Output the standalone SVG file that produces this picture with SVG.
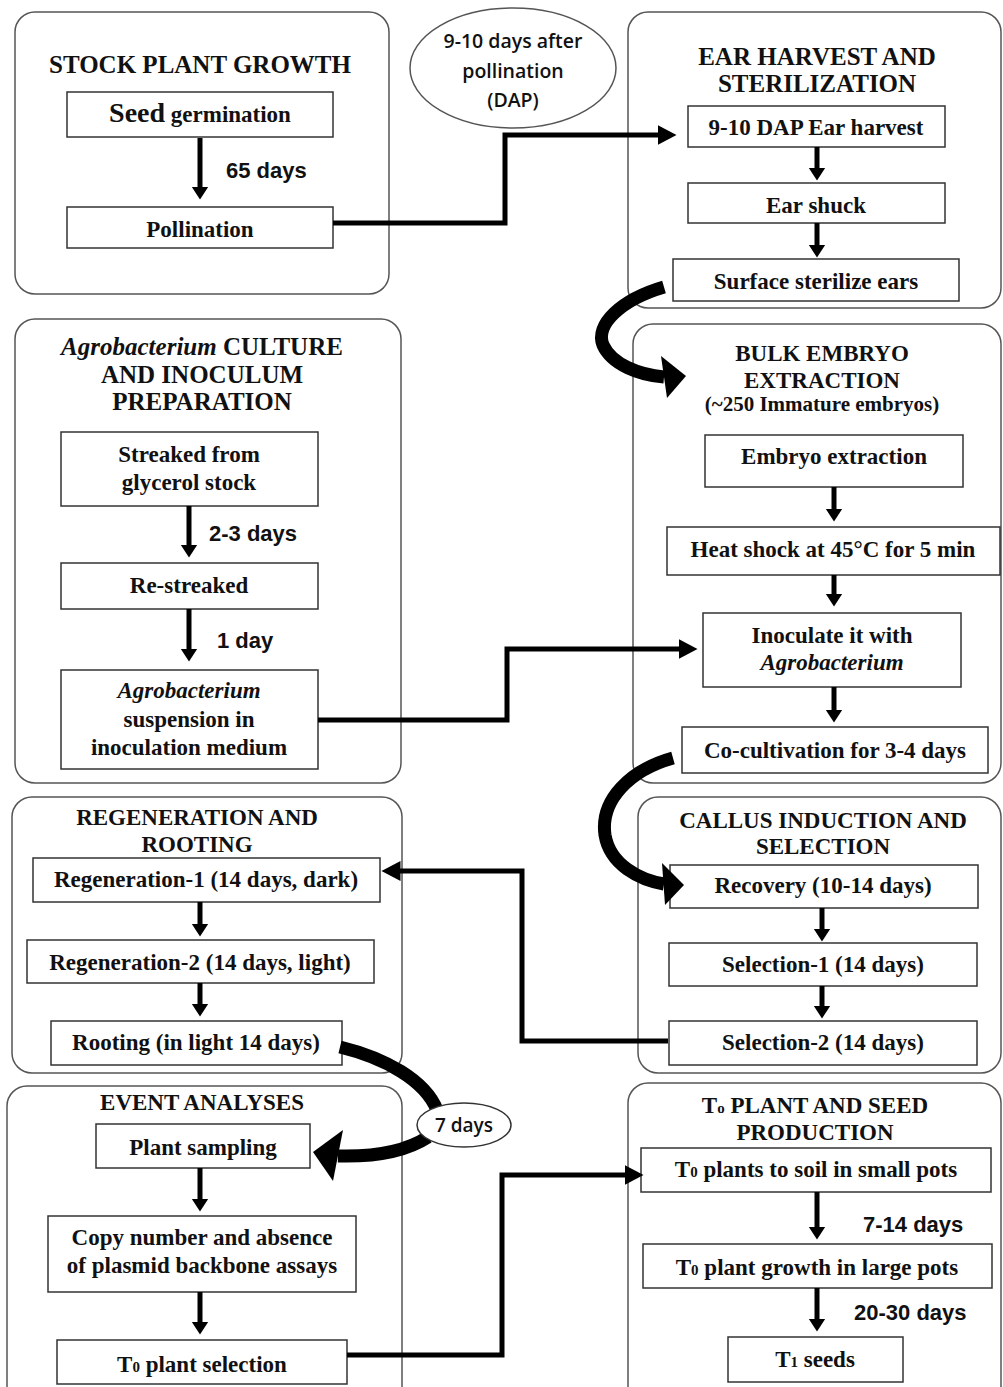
<svg xmlns="http://www.w3.org/2000/svg" width="1003" height="1387" viewBox="0 0 1003 1387">
<style>
.panel{fill:#fff;stroke:#555;stroke-width:1.5}
.box{fill:#fff;stroke:#333;stroke-width:1.5}
.t{font-family:"Liberation Serif","Times New Roman",serif;font-weight:bold;fill:#111;text-anchor:middle}
.ttl{font-size:25px}
.tt2{font-size:23px}
.bx{font-size:23px}
.it{font-style:italic}
.d{font-family:"Liberation Sans",Arial,sans-serif;font-weight:bold;font-size:22px;fill:#111}
.e{font-family:"Open Sans","Liberation Sans",sans-serif;font-weight:600;fill:#111;text-anchor:middle}
.ar{stroke:#000;stroke-width:5;fill:none}
.el{stroke:#000;stroke-width:5;fill:none;stroke-linejoin:miter}
.cv{stroke:#000;stroke-width:13;fill:none}
.sub{font-size:15px}
</style>
<defs>
<marker id="a" markerUnits="userSpaceOnUse" markerWidth="18" markerHeight="18" refX="0.5" refY="8.5" orient="auto"><path d="M0,0 L13,8.5 L0,17 z" fill="#000"/></marker>
<marker id="b" markerUnits="userSpaceOnUse" markerWidth="22" markerHeight="22" refX="0.5" refY="10" orient="auto"><path d="M0,0 L19,10 L0,20 z" fill="#000"/></marker>
</defs>

<g id="stock-plant-growth">
<rect class="panel" x="15" y="12" width="374" height="282" rx="20"/>
<text class="t ttl" x="200" y="73">STOCK PLANT GROWTH</text>
<g id="seed-germination"><rect class="box" x="67" y="92" width="266" height="45"/><text class="t bx" x="200" y="122"><tspan font-size="28">Seed</tspan> germination</text></g>
<g id="pollination"><rect class="box" x="67" y="207" width="266" height="41"/><text class="t bx" x="200" y="237">Pollination</text></g>
<text class="d" x="226" y="178">65 days</text>
</g>

<g id="dap-note">
<ellipse cx="513" cy="68" rx="103" ry="60" fill="#fff" stroke="#555" stroke-width="1.5"/>
<text class="e" x="513" y="48" font-size="19.5">9-10 days after</text>
<text class="e" x="513" y="78" font-size="19.5">pollination</text>
<text class="e" x="513" y="107" font-size="19.5">(DAP)</text>
</g>

<g id="ear-harvest">
<rect class="panel" x="628" y="12" width="373" height="296" rx="20"/>
<text class="t ttl" x="817" y="65">EAR HARVEST AND</text>
<text class="t ttl" x="817" y="92">STERILIZATION</text>
<g id="ear-harvest-box"><rect class="box" x="688" y="106" width="257" height="41"/><text class="t bx" x="816" y="135">9-10 DAP Ear harvest</text></g>
<g id="ear-shuck"><rect class="box" x="688" y="183" width="257" height="40"/><text class="t bx" x="816" y="213">Ear shuck</text></g>
<g id="surface-sterilize"><rect class="box" x="673" y="259" width="286" height="42"/><text class="t bx" x="816" y="289">Surface sterilize ears</text></g>
</g>

<g id="agro-culture">
<rect class="panel" x="15" y="319" width="386" height="464" rx="20"/>
<text class="t ttl" x="202" y="355"><tspan class="it">Agrobacterium</tspan> CULTURE</text>
<text class="t ttl" x="202" y="383">AND INOCULUM</text>
<text class="t ttl" x="202" y="410">PREPARATION</text>
<g id="streaked"><rect class="box" x="61" y="432" width="257" height="74"/><text class="t bx" x="189" y="462">Streaked from</text><text class="t bx" x="189" y="490">glycerol stock</text></g>
<g id="re-streaked"><rect class="box" x="61" y="563" width="257" height="46"/><text class="t bx" x="189" y="593">Re-streaked</text></g>
<g id="suspension"><rect class="box" x="61" y="670" width="257" height="99"/><text class="t bx it" x="189" y="698">Agrobacterium</text><text class="t bx" x="189" y="727">suspension in</text><text class="t bx" x="189" y="755">inoculation medium</text></g>
<text class="d" x="209" y="541">2-3 days</text>
<text class="d" x="217" y="648">1 day</text>
</g>

<g id="bulk-embryo">
<rect class="panel" x="633" y="324" width="368" height="459" rx="20"/>
<text class="t tt2" x="822" y="361">BULK EMBRYO</text>
<text class="t tt2" x="822" y="388">EXTRACTION</text>
<text class="t" x="822" y="411" font-size="21">(~250 Immature embryos)</text>
<g id="embryo-extraction"><rect class="box" x="705" y="435" width="258" height="52"/><text class="t bx" x="834" y="464">Embryo extraction</text></g>
<g id="heat-shock"><rect class="box" x="667" y="527" width="333" height="48"/><text class="t bx" x="833" y="557">Heat shock at 45°C for 5 min</text></g>
<g id="inoculate"><rect class="box" x="703" y="613" width="258" height="74"/><text class="t bx" x="832" y="643">Inoculate it with</text><text class="t bx it" x="832" y="670">Agrobacterium</text></g>
<g id="co-cultivation"><rect class="box" x="682" y="727" width="306" height="46"/><text class="t bx" x="835" y="758">Co-cultivation for 3-4 days</text></g>
</g>

<g id="regeneration">
<rect class="panel" x="12" y="797" width="390" height="276" rx="20"/>
<text class="t tt2" x="197" y="825">REGENERATION AND</text>
<text class="t tt2" x="197" y="852">ROOTING</text>
<g id="regen-1"><rect class="box" x="33" y="858" width="347" height="44"/><text class="t bx" x="206" y="887">Regeneration-1 (14 days, dark)</text></g>
<g id="regen-2"><rect class="box" x="27" y="940" width="347" height="43"/><text class="t bx" x="200" y="970">Regeneration-2 (14 days, light)</text></g>
<g id="rooting"><rect class="box" x="51" y="1021" width="291" height="44"/><text class="t bx" x="196" y="1050">Rooting (in light 14 days)</text></g>
</g>

<g id="callus">
<rect class="panel" x="638" y="797" width="363" height="276" rx="20"/>
<text class="t tt2" x="823" y="828">CALLUS INDUCTION AND</text>
<text class="t tt2" x="823" y="854">SELECTION</text>
<g id="recovery"><rect class="box" x="670" y="865" width="308" height="43"/><text class="t bx" x="823" y="893">Recovery (10-14 days)</text></g>
<g id="selection-1"><rect class="box" x="669" y="943" width="308" height="43"/><text class="t bx" x="823" y="972">Selection-1 (14 days)</text></g>
<g id="selection-2"><rect class="box" x="669" y="1021" width="308" height="44"/><text class="t bx" x="823" y="1050">Selection-2 (14 days)</text></g>
</g>

<g id="event-analyses">
<rect class="panel" x="7" y="1086" width="395" height="330" rx="20"/>
<text class="t tt2" x="202" y="1110">EVENT ANALYSES</text>
<g id="plant-sampling"><rect class="box" x="96" y="1124" width="214" height="44"/><text class="t bx" x="203" y="1155">Plant sampling</text></g>
<g id="copy-number"><rect class="box" x="48" y="1216" width="308" height="76"/><text class="t bx" x="202" y="1245">Copy number and absence</text><text class="t bx" x="202" y="1273">of plasmid backbone assays</text></g>
<g id="t0-selection"><rect class="box" x="57" y="1340" width="290" height="44"/><text class="t bx" x="202" y="1372">T<tspan class="sub">0</tspan> plant selection</text></g>
</g>

<g id="t0-production">
<rect class="panel" x="628" y="1083" width="373" height="330" rx="20"/>
<text class="t tt2" x="815" y="1113">T<tspan class="sub">o</tspan> PLANT AND SEED</text>
<text class="t tt2" x="815" y="1140">PRODUCTION</text>
<g id="t0-small-pots"><rect class="box" x="641" y="1148" width="350" height="44"/><text class="t bx" x="816" y="1177">T<tspan class="sub">0</tspan> plants to soil in small pots</text></g>
<g id="t0-large-pots"><rect class="box" x="643" y="1244" width="349" height="44"/><text class="t bx" x="817" y="1275">T<tspan class="sub">0</tspan> plant growth in large pots</text></g>
<g id="t1-seeds"><rect class="box" x="728" y="1337" width="175" height="45"/><text class="t bx" x="815" y="1367">T<tspan class="sub">1</tspan> seeds</text></g>
<text class="d" x="863" y="1232">7-14 days</text>
<text class="d" x="854" y="1320">20-30 days</text>
</g>

<g id="connectors">
<line class="ar" x1="200" y1="138" x2="200" y2="187" marker-end="url(#a)"/>
<line class="ar" x1="817" y1="147" x2="817" y2="168" marker-end="url(#a)"/>
<line class="ar" x1="817" y1="223" x2="817" y2="245" marker-end="url(#a)"/>
<line class="ar" x1="189" y1="506" x2="189" y2="545" marker-end="url(#a)"/>
<line class="ar" x1="189" y1="609" x2="189" y2="649" marker-end="url(#a)"/>
<line class="ar" x1="834" y1="487" x2="834" y2="509" marker-end="url(#a)"/>
<line class="ar" x1="834" y1="575" x2="834" y2="594" marker-end="url(#a)"/>
<line class="ar" x1="834" y1="687" x2="834" y2="710" marker-end="url(#a)"/>
<line class="ar" x1="200" y1="902" x2="200" y2="924" marker-end="url(#a)"/>
<line class="ar" x1="200" y1="983" x2="200" y2="1004" marker-end="url(#a)"/>
<line class="ar" x1="822" y1="908" x2="822" y2="929" marker-end="url(#a)"/>
<line class="ar" x1="822" y1="986" x2="822" y2="1006" marker-end="url(#a)"/>
<line class="ar" x1="200" y1="1168" x2="200" y2="1199" marker-end="url(#a)"/>
<line class="ar" x1="200" y1="1292" x2="200" y2="1322" marker-end="url(#a)"/>
<line class="ar" x1="817" y1="1192" x2="817" y2="1227" marker-end="url(#a)"/>
<line class="ar" x1="817" y1="1288" x2="817" y2="1319" marker-end="url(#a)"/>
<path class="el" d="M333,223 H505 V135 H658" marker-end="url(#b)"/>
<path class="el" d="M318,720 H507 V649 H679" marker-end="url(#b)"/>
<path class="el" d="M668,1041 H522 V871 H400" marker-end="url(#b)"/>
<path class="el" d="M347,1355 H502 V1175 H625" marker-end="url(#b)"/>
<path class="cv" d="M664,287 C620,300 595,325 603,345 C612,365 640,375 664,377"/>
<polygon points="686,376 661,356 667,398" fill="#000"/>
<path class="cv" d="M673,758 C630,770 600,800 605,835 C610,865 640,880 664,884"/>
<polygon points="684,885 662,863 665,905" fill="#000"/>
<path class="cv" d="M340,1047 C385,1058 425,1080 437,1110"/>
<path class="cv" d="M428,1137 C405,1152 375,1157 338,1156"/>
<polygon points="313,1152 343,1130 333,1181" fill="#000"/>
</g>

<g id="seven-days">
<ellipse cx="464" cy="1125" rx="47" ry="22" fill="#fff" stroke="#333" stroke-width="1.5"/>
<text class="e" x="464" y="1132" font-size="19">7 days</text>
</g>
</svg>
